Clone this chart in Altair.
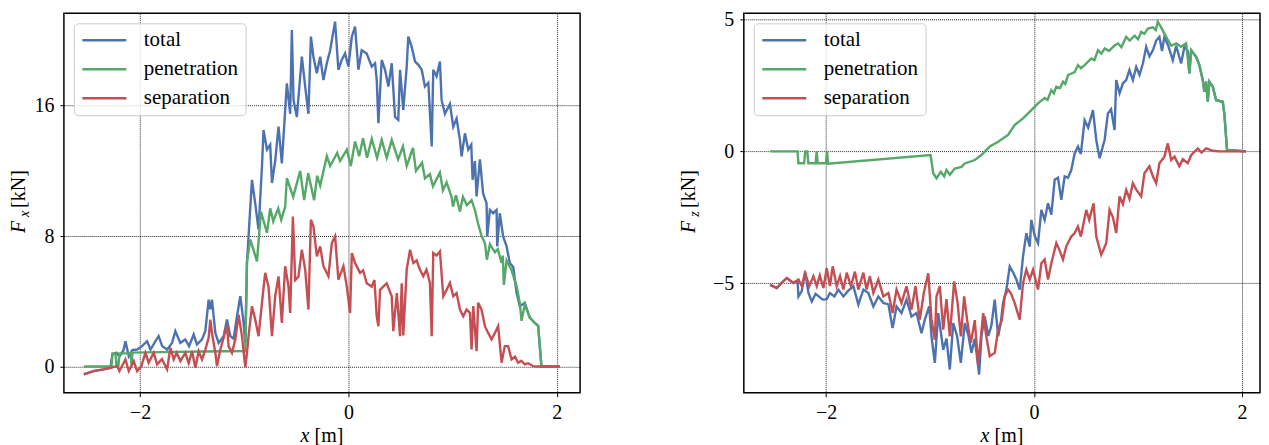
import altair as alt
import pandas as pd

SERIES = ["total", "penetration", "separation"]
COLORS = ["#4C72B0", "#55A868", "#C44E52"]

# ---------------- left panel: F_x [kN] vs x [m] ----------------
TOTAL_L = [(-2.541, -0.49), (-2.448, -0.28), (-2.352, -0.18), (-2.285, -0.08), (-2.266, 0.75), (-2.227, 0.85),
           (-2.199, 0.60), (-2.160, 1.00), (-2.141, 1.55), (-2.109, 0.63), (-2.075, 1.00), (-2.029, 1.04),
           (-1.990, 1.20), (-1.933, 1.55), (-1.900, 1.04), (-1.853, 1.55), (-1.822, 1.86), (-1.789, 1.25),
           (-1.741, 1.04), (-1.693, 1.45), (-1.662, 2.17), (-1.614, 1.45), (-1.566, 1.66), (-1.530, 1.25),
           (-1.486, 1.96), (-1.454, 1.35), (-1.406, 1.66), (-1.374, 2.17), (-1.342, 4.10), (-1.326, 3.50),
           (-1.310, 4.10), (-1.278, 2.06), (-1.246, 1.45), (-1.198, 1.86), (-1.166, 2.88), (-1.134, 1.86),
           (-1.102, 1.70), (-1.070, 3.08), (-1.038, 4.31), (-1.010, 2.88), (-0.990, 1.45), (-0.974, 6.35),
           (-0.959, 7.98), (-0.926, 11.45), (-0.895, 10.0), (-0.863, 8.4), (-0.830, 12.27), (-0.815, 14.5),
           (-0.782, 13.3), (-0.751, 13.6), (-0.734, 11.25), (-0.703, 12.6), (-0.671, 14.72), (-0.639, 12.45),
           (-0.607, 15.74), (-0.591, 17.37), (-0.559, 15.5), (-0.543, 20.64), (-0.527, 16.35), (-0.495, 15.3),
           (-0.463, 17.78), (-0.447, 19.0), (-0.415, 17.17), (-0.384, 15.5), (-0.360, 20.23), (-0.336, 19.0),
           (-0.303, 17.98), (-0.271, 19.0), (-0.240, 17.57), (-0.207, 18.6), (-0.175, 19.4), (-0.128, 21.15),
           (-0.096, 18.2), (-0.064, 18.8), (-0.032, 19.2), (0.000, 18.4), (0.033, 20.23), (0.064, 20.85),
           (0.096, 18.2), (0.128, 19.4), (0.176, 19.2), (0.224, 18.4), (0.256, 18.6), (0.272, 17.6),
           (0.288, 14.92), (0.320, 18.8), (0.352, 18.2), (0.384, 17.17), (0.416, 18.6), (0.448, 15.3),
           (0.479, 15.12), (0.496, 18.2), (0.527, 15.74), (0.560, 18.4), (0.575, 20.23), (0.608, 19.6),
           (0.640, 18.7), (0.672, 18.5), (0.704, 18.2), (0.735, 17.17), (0.768, 17.4), (0.800, 13.5),
           (0.815, 18.2), (0.847, 17.8), (0.879, 18.7), (0.895, 16.35), (0.927, 15.5), (0.975, 16.1),
           (1.007, 14.7), (1.039, 15.2), (1.071, 13.9), (1.087, 12.88), (1.119, 14.3), (1.151, 13.3),
           (1.180, 13.6), (1.193, 11.45), (1.215, 12.6), (1.231, 10.43), (1.263, 12.7), (1.294, 10.6),
           (1.327, 10.0), (1.333, 7.98), (1.359, 9.6), (1.390, 9.4), (1.423, 9.6), (1.429, 7.37),
           (1.454, 9.4), (1.486, 7.98), (1.518, 7.4), (1.550, 6.35), (1.583, 6.1), (1.615, 4.51),
           (1.646, 3.7), (1.694, 3.9), (1.742, 3.0), (1.790, 2.67), (1.822, 2.5), (1.854, 0.0), (2.030, 0.0)]

PENETRATION_L = [(-2.540, 0.0), (-2.275, 0.0), (-2.266, 0.8), (-2.237, 0.8), (-2.227, 0.05), (-2.208, 0.05),
                 (-2.199, 0.8), (-2.093, 0.82), (-2.083, 0.1), (-2.074, 0.85), (-1.800, 0.88), (-1.400, 0.92),
                 (-0.990, 0.95), (-0.974, 6.45), (-0.942, 7.78), (-0.878, 6.45), (-0.840, 9.5), (-0.782, 8.2),
                 (-0.751, 9.7), (-0.722, 8.9), (-0.674, 9.7), (-0.645, 9.0), (-0.607, 9.8), (-0.591, 11.55),
                 (-0.530, 10.4), (-0.463, 12.0), (-0.425, 10.2), (-0.386, 11.85), (-0.329, 10.2), (-0.300, 11.7),
                 (-0.271, 11.1), (-0.207, 12.9), (-0.175, 12.3), (-0.108, 13.1), (-0.080, 12.6), (-0.015, 13.3),
                 (0.023, 12.3), (0.064, 13.8), (0.103, 12.9), (0.141, 14.0), (0.179, 12.8), (0.224, 13.97),
                 (0.275, 12.8), (0.320, 13.9), (0.368, 12.8), (0.416, 13.9), (0.477, 12.7), (0.524, 13.5),
                 (0.560, 12.3), (0.620, 13.4), (0.649, 12.0), (0.707, 12.5), (0.735, 11.55), (0.783, 11.8),
                 (0.812, 11.05), (0.879, 11.9), (0.908, 10.8), (0.943, 11.3), (0.991, 10.4), (1.004, 9.8),
                 (1.033, 10.5), (1.071, 9.5), (1.100, 10.4), (1.138, 9.9), (1.183, 10.2), (1.215, 9.6),
                 (1.244, 8.8), (1.279, 8.0), (1.311, 7.57), (1.330, 6.55), (1.359, 7.5), (1.407, 7.0),
                 (1.435, 7.2), (1.471, 6.35), (1.483, 6.8), (1.493, 5.0), (1.519, 6.5), (1.567, 5.9),
                 (1.615, 4.93), (1.646, 3.9), (1.663, 2.8), (1.694, 3.8), (1.742, 3.0), (1.790, 2.67),
                 (1.822, 2.5), (1.854, 0.0), (2.030, 0.0)]

SEPARATION_L = [(-2.541, -0.49), (-2.448, -0.28), (-2.352, -0.18), (-2.285, -0.08), (-2.220, 0.02), (-2.199, -0.28),
                (-2.141, 0.43), (-2.109, -0.28), (-2.061, 0.33), (-2.029, -0.28), (-1.990, 0.0), (-1.949, 0.84),
                (-1.918, 0.23), (-1.870, 0.84), (-1.837, 0.13), (-1.790, 0.45), (-1.741, -0.18), (-1.709, 1.15),
                (-1.678, 0.43), (-1.650, 0.84), (-1.614, 0.33), (-1.566, 0.84), (-1.534, 0.2), (-1.501, 0.94),
                (-1.470, -0.08), (-1.438, 0.94), (-1.406, 0.43), (-1.374, 1.04), (-1.342, 1.76), (-1.326, 2.88),
                (-1.310, 2.04), (-1.278, 0.84), (-1.262, 0.02), (-1.230, 1.04), (-1.198, 1.76), (-1.166, 2.57),
                (-1.151, 1.25), (-1.118, 0.84), (-1.086, 1.66), (-1.055, 3.18), (-1.022, 1.86), (-0.990, -0.05),
                (-0.974, 0.84), (-0.959, 1.86), (-0.926, 3.69), (-0.895, 2.88), (-0.863, 1.86), (-0.830, 3.90),
                (-0.799, 5.74), (-0.767, 4.9), (-0.734, 1.86), (-0.703, 4.31), (-0.671, 5.53), (-0.639, 2.67),
                (-0.607, 6.15), (-0.575, 4.9), (-0.559, 3.29), (-0.533, 9.2), (-0.511, 5.3), (-0.480, 5.5),
                (-0.447, 7.16), (-0.415, 5.94), (-0.384, 3.49), (-0.360, 9.0), (-0.336, 8.6), (-0.303, 6.76),
                (-0.271, 7.37), (-0.240, 6.15), (-0.192, 5.53), (-0.159, 7.57), (-0.128, 7.98), (-0.096, 5.33),
                (-0.048, 6.15), (-0.015, 4.9), (0.016, 3.29), (0.033, 6.96), (0.064, 6.35), (0.112, 5.74),
                (0.141, 5.9), (0.176, 5.1), (0.224, 4.9), (0.250, 5.3), (0.272, 3.08), (0.288, 2.47),
                (0.304, 4.7), (0.335, 4.9), (0.368, 5.1), (0.416, 4.31), (0.431, 2.17), (0.465, 4.5),
                (0.496, 1.86), (0.512, 5.1), (0.527, 1.9), (0.560, 5.94), (0.592, 7.16), (0.623, 6.35),
                (0.655, 6.5), (0.687, 5.94), (0.719, 5.53), (0.750, 5.94), (0.783, 5.13), (0.800, 1.86),
                (0.815, 6.96), (0.847, 6.8), (0.879, 7.06), (0.911, 4.31), (0.943, 4.7), (0.975, 5.13),
                (1.007, 4.31), (1.039, 4.5), (1.071, 3.49), (1.103, 3.08), (1.135, 3.49), (1.167, 3.29),
                (1.183, 1.04), (1.199, 3.7), (1.231, 0.94), (1.246, 3.9), (1.278, 3.5), (1.311, 2.47),
                (1.342, 2.06), (1.375, 1.66), (1.407, 2.06), (1.438, 2.47), (1.471, 0.23), (1.502, 1.25),
                (1.534, 1.25), (1.567, 0.43), (1.600, 0.6), (1.630, 0.23), (1.660, 0.35), (1.694, 0.13),
                (1.726, 0.2), (1.774, 0.02), (1.810, 0.0), (2.030, 0.0)]

# ---------------- right panel: F_z [kN] vs x [m] ----------------
TOTAL_R = [(-2.537, -5.06), (-2.473, -5.18), (-2.430, -5.0), (-2.377, -4.8), (-2.313, -4.99), (-2.274, -4.9),
           (-2.265, -5.5), (-2.233, -5.3), (-2.201, -4.55), (-2.169, -5.37), (-2.137, -5.69), (-2.100, -5.4),
           (-2.070, -5.5), (-2.032, -5.62), (-1.993, -5.6), (-1.962, -5.37), (-1.920, -5.5), (-1.881, -5.24),
           (-1.833, -5.5), (-1.790, -5.3), (-1.737, -5.11), (-1.689, -5.81), (-1.641, -5.24), (-1.593, -5.37),
           (-1.545, -5.88), (-1.497, -5.5), (-1.449, -5.75), (-1.400, -5.8), (-1.360, -6.7), (-1.322, -5.88),
           (-1.274, -6.13), (-1.226, -5.62), (-1.178, -6.26), (-1.130, -6.13), (-1.082, -6.89), (-1.050, -6.38),
           (-1.008, -5.88), (-0.986, -7.01), (-0.954, -8.02), (-0.921, -6.13), (-0.873, -7.52), (-0.842, -7.1),
           (-0.810, -8.27), (-0.777, -6.51), (-0.740, -7.0), (-0.704, -8.02), (-0.666, -6.51), (-0.630, -7.0),
           (-0.602, -7.64), (-0.570, -7.1), (-0.528, -8.46), (-0.506, -7.0), (-0.474, -6.26), (-0.440, -7.0),
           (-0.410, -6.6), (-0.378, -5.62), (-0.345, -7.01), (-0.320, -6.5), (-0.298, -5.75), (-0.266, -5.24),
           (-0.234, -4.36), (-0.200, -4.6), (-0.170, -4.86), (-0.138, -5.24), (-0.106, -3.98), (-0.074, -3.1),
           (-0.042, -3.61), (-0.026, -2.6), (0.006, -3.2), (0.038, -3.48), (0.070, -2.22), (0.102, -2.6),
           (0.134, -1.97), (0.166, -2.4), (0.198, -1.08), (0.230, -1.0), (0.262, -1.84), (0.294, -0.95),
           (0.326, -1.0), (0.358, -0.71), (0.390, -0.08), (0.422, 0.18), (0.450, -0.1), (0.486, 1.18),
           (0.520, 0.9), (0.566, 1.56), (0.598, 0.43), (0.630, -0.26), (0.678, 0.43), (0.710, 1.44),
           (0.740, 1.6), (0.774, 0.81), (0.790, 2.7), (0.822, 2.2), (0.854, 2.58), (0.886, 2.7),
           (0.917, 3.08), (0.950, 2.7), (0.982, 3.2), (1.014, 2.9), (1.046, 3.33), (1.078, 3.96),
           (1.109, 3.6), (1.142, 3.83), (1.174, 4.2), (1.205, 4.34), (1.230, 3.8), (1.253, 4.34),
           (1.290, 4.0), (1.334, 3.45), (1.366, 4.0), (1.414, 3.33), (1.445, 3.96), (1.478, 3.8),
           (1.493, 2.95), (1.510, 3.83), (1.558, 3.58), (1.589, 3.27), (1.622, 2.70), (1.637, 2.26),
           (1.654, 2.64), (1.670, 1.88), (1.685, 2.64), (1.718, 2.45), (1.750, 1.94), (1.814, 1.88),
           (1.830, 1.4), (1.855, 0.05), (2.037, 0.0)]

PENETRATION_R = [(-2.537, 0.0), (-2.274, 0.0), (-2.265, -0.45), (-2.210, -0.45), (-2.200, 0.0), (-2.180, 0.0),
                 (-2.170, -0.45), (-2.100, -0.45), (-2.090, 0.0), (-2.080, -0.45), (-2.000, -0.45), (-1.990, 0.0),
                 (-1.980, -0.47), (-0.995, -0.14), (-0.969, -0.83), (-0.938, -1.02), (-0.896, -0.78),
                 (-0.864, -0.95), (-0.842, -0.71), (-0.810, -0.89), (-0.762, -0.65), (-0.698, -0.59),
                 (-0.666, -0.46), (-0.570, -0.33), (-0.506, -0.14), (-0.426, 0.18), (-0.345, 0.36),
                 (-0.250, 0.62), (-0.186, 1.0), (-0.106, 1.25), (-0.026, 1.56), (0.038, 1.82), (0.102, 2.02),
                 (0.130, 1.95), (0.166, 2.32), (0.190, 2.2), (0.214, 2.45), (0.250, 2.4), (0.278, 2.64),
                 (0.300, 2.55), (0.326, 2.89), (0.360, 2.95), (0.390, 3.0), (0.422, 3.27), (0.450, 3.15),
                 (0.486, 3.27), (0.520, 3.4), (0.550, 3.52), (0.580, 3.45), (0.614, 3.83), (0.646, 3.7),
                 (0.680, 3.9), (0.720, 3.8), (0.770, 4.0), (0.806, 4.09), (0.840, 3.95), (0.886, 4.34),
                 (0.920, 4.2), (0.966, 4.38), (1.000, 4.25), (1.030, 4.53), (1.060, 4.45), (1.094, 4.65),
                 (1.142, 4.7), (1.170, 4.6), (1.190, 4.91), (1.222, 4.7), (1.270, 4.34), (1.318, 4.0),
                 (1.366, 4.09), (1.414, 3.96), (1.462, 4.09), (1.493, 2.95), (1.510, 3.83), (1.558, 3.58),
                 (1.589, 3.27), (1.622, 2.70), (1.637, 2.26), (1.654, 2.64), (1.670, 1.88), (1.685, 2.64),
                 (1.718, 2.45), (1.750, 1.94), (1.814, 1.88), (1.830, 1.4), (1.855, 0.05), (2.037, 0.0)]

SEPARATION_R = [(-2.537, -5.06), (-2.473, -5.18), (-2.430, -5.0), (-2.377, -4.8), (-2.313, -4.99), (-2.265, -4.86),
                (-2.233, -5.11), (-2.201, -4.62), (-2.160, -5.11), (-2.121, -4.73), (-2.089, -5.11), (-2.060, -4.7),
                (-2.025, -5.18), (-1.993, -4.43), (-1.962, -5.11), (-1.936, -4.36), (-1.897, -5.11), (-1.865, -4.73),
                (-1.833, -5.24), (-1.801, -4.6), (-1.760, -5.11), (-1.722, -4.56), (-1.689, -5.24), (-1.641, -4.6),
                (-1.610, -5.24), (-1.578, -4.73), (-1.545, -5.37), (-1.497, -4.86), (-1.449, -5.5), (-1.400, -5.37),
                (-1.360, -6.13), (-1.322, -5.24), (-1.274, -5.75), (-1.226, -5.11), (-1.178, -6.0), (-1.140, -5.11),
                (-1.098, -6.38), (-1.060, -5.37), (-1.017, -4.62), (-0.986, -6.38), (-0.954, -7.14), (-0.938, -5.5),
                (-0.906, -5.11), (-0.873, -6.76), (-0.842, -5.6), (-0.810, -7.01), (-0.768, -4.93), (-0.735, -5.75),
                (-0.704, -7.01), (-0.672, -5.5), (-0.640, -6.5), (-0.608, -7.26), (-0.570, -6.4), (-0.537, -8.1),
                (-0.489, -6.13), (-0.460, -7.0), (-0.426, -7.77), (-0.378, -7.64), (-0.345, -6.76), (-0.310, -6.4),
                (-0.282, -5.5), (-0.250, -5.24), (-0.220, -5.4), (-0.186, -5.75), (-0.138, -6.38), (-0.106, -4.99),
                (-0.074, -4.48), (-0.042, -4.86), (-0.010, -4.49), (0.038, -5.24), (0.070, -4.24), (0.102, -4.1),
                (0.134, -4.86), (0.166, -4.24), (0.214, -3.48), (0.240, -3.7), (0.278, -4.1), (0.310, -3.6),
                (0.358, -3.23), (0.390, -3.1), (0.422, -2.85), (0.450, -3.23), (0.502, -2.22), (0.530, -2.6),
                (0.572, -1.97), (0.598, -3.23), (0.646, -3.92), (0.694, -3.48), (0.726, -2.22), (0.758, -2.5),
                (0.790, -3.1), (0.822, -1.71), (0.854, -2.0), (0.886, -1.46), (0.917, -1.8), (0.950, -1.21),
                (0.982, -1.45), (1.030, -1.71), (1.061, -0.83), (1.109, -0.57), (1.142, -0.95), (1.174, -1.21),
                (1.205, -0.45), (1.253, -0.2), (1.286, 0.3), (1.318, -0.33), (1.350, -0.2), (1.397, -0.57),
                (1.430, -0.3), (1.478, -0.45), (1.510, -0.15), (1.574, 0.11), (1.610, -0.05), (1.654, 0.11),
                (1.720, 0.02), (1.781, 0.0), (2.037, 0.0)]

X_TICKS = [-2, 0, 2]
Y_TICKS_L = [0, 8, 16]
Y_TICKS_R = [-5, 0, 5]

W, H = 517, 380
SERIF = "Liberation Serif"


def txt(s, x, y, size=20, style="normal", angle=0, baseline="middle"):
    return alt.Chart(alt.Data(values=[{"t": s}])).mark_text(
        text=s, font=SERIF, fontSize=size, fontStyle=style, angle=angle,
        baseline=baseline, align="center", color="black"
    ).encode(x=alt.value(x), y=alt.value(y))


def panel(series_data, xdom, ydom, yticks, sub, title_x):
    layers = []
    for name, pts in zip(SERIES, series_data):
        df = pd.DataFrame(pts, columns=["x", "y"])
        df["series"] = name
        layers.append(
            alt.Chart(df).mark_line(strokeWidth=2.4, clip=True).encode(
                x=alt.X("x:Q", scale=alt.Scale(domain=xdom, nice=False, zero=False),
                        axis=alt.Axis(values=X_TICKS, title=None, format="d")),
                y=alt.Y("y:Q", scale=alt.Scale(domain=ydom, nice=False, zero=False),
                        axis=alt.Axis(values=yticks, title=None, format="d")),
                color=alt.Color("series:N", scale=alt.Scale(domain=SERIES, range=COLORS),
                                legend=alt.Legend(title=None, orient="top-left", offset=10)),
            )
        )
    c = H / 2
    layers += [
        txt("F", title_x, c + 24, style="italic", angle=270),
        txt(sub, title_x + 6, c + 11, size=14, style="italic", angle=270),
        txt("[kN]", title_x, c - 14, angle=270),
        txt("x", W / 2 - 17, H + 49, style="italic", baseline="alphabetic"),
        txt("[m]", W / 2 + 7, H + 49, baseline="alphabetic"),
    ]
    return alt.layer(*layers).properties(width=W, height=H)


left = panel([TOTAL_L, PENETRATION_L, SEPARATION_L], [-2.732, 2.225], [-1.61, 21.66], Y_TICKS_L, "x", -45)
right = panel([TOTAL_R, PENETRATION_R, SEPARATION_R], [-2.790, 2.172], [-9.15, 5.23], Y_TICKS_R, "z", -55)

chart = alt.hconcat(left, right, spacing=97).resolve_scale(
    color="independent"
).resolve_legend(color="independent").properties(
    padding=0
).configure_view(
    stroke="black", strokeWidth=1.5
).configure_axis(
    labelFont=SERIF, labelFontSize=20, labelColor="black", labelPadding=6,
    tickColor="black", tickSize=4, tickWidth=1,
    grid=True, gridColor="black", gridDash=[1, 1], gridWidth=1, gridOpacity=0.85,
    domain=False
).configure_legend(
    labelFont=SERIF, labelFontSize=21, labelColor="black", labelOffset=16, labelLimit=300,
    symbolType="stroke", symbolSize=1936, symbolStrokeWidth=2.4, clipHeight=20,
    rowPadding=8, padding=7, strokeColor="#cccccc", fillColor="rgba(255,255,255,0.8)",
    cornerRadius=4
)

chart.save("out.html", embed_options={"renderer": "svg", "actions": False})
